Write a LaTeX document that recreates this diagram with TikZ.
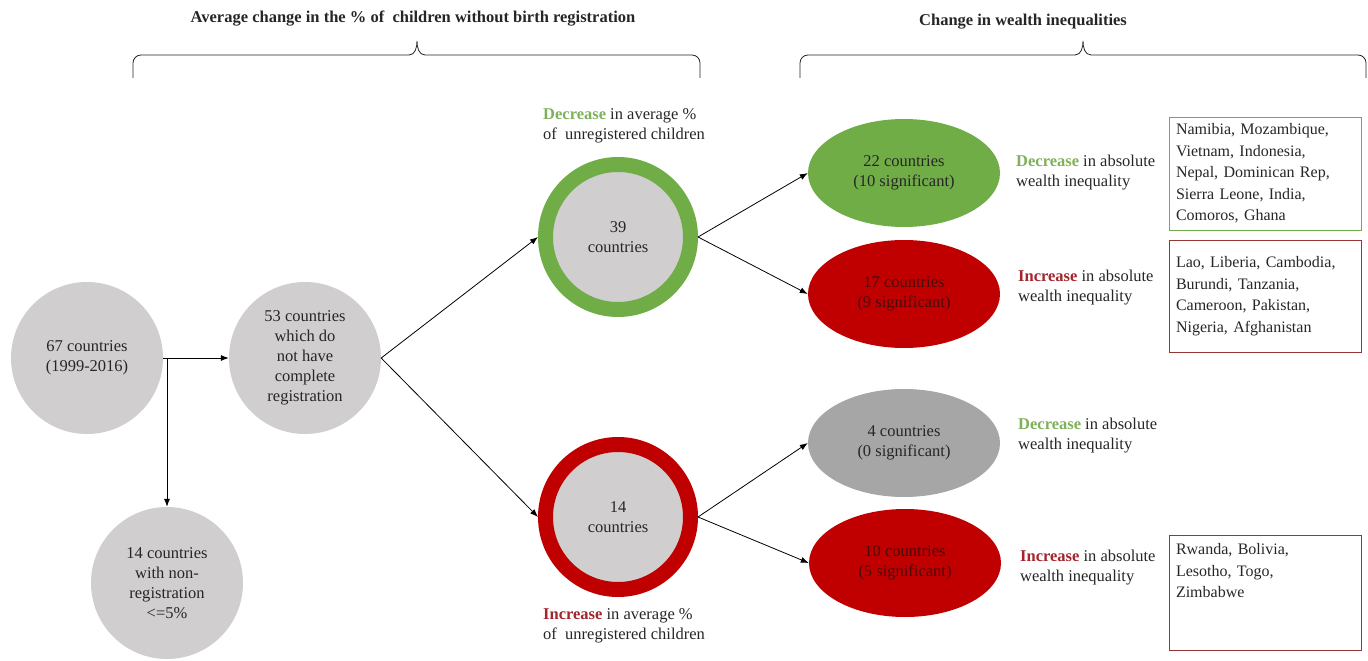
\documentclass[tikz,border=0pt]{standalone}
\usepackage{fontspec}
\setmainfont{Liberation Serif}
\usetikzlibrary{shapes.geometric,arrows.meta}
\definecolor{gfill}{HTML}{70AD47}
\definecolor{rfill}{HTML}{C00000}
\definecolor{lgray}{HTML}{D0CECE}
\definecolor{dgray}{HTML}{A6A6A6}
\definecolor{gtext}{HTML}{7FB05A}
\definecolor{rtext}{HTML}{A3262E}
\definecolor{rbox}{HTML}{953735}
\definecolor{ink}{HTML}{262626}
\definecolor{redink}{HTML}{4A0A0A}
\tikzset{
  txt/.style={font=\fontsize{16.5}{20}\selectfont, text=ink},
  hdr/.style={font=\bfseries\fontsize{16.5}{20}\selectfont, text=ink},
  gcirc/.style={circle, fill=lgray, minimum size=152pt, inner sep=0pt, align=center, txt},
  ring/.style={circle, fill=lgray, minimum size=145pt, line width=15pt, outer sep=7.5pt, inner sep=0pt, align=center, txt},
  ell/.style={ellipse, minimum width=192pt, minimum height=108pt, inner sep=0pt, align=center, txt},
  lbl/.style={anchor=west, align=left, inner sep=0pt, txt},
  box/.style={draw, line width=1pt, minimum width=192pt, text width=178pt, align=left, inner xsep=7pt, txt, font=\fontsize{16}{21.5}\selectfont},
  arr/.style={-{Latex[length=8pt,width=6pt]}, line width=0.8pt, draw=black},
  brace/.style={line width=0.8pt, draw=ink}
}
\begin{document}
\begin{tikzpicture}[x=1pt,y=-1pt]
\useasboundingbox (0,0) rectangle (1368,661);

% headers and braces
\node[hdr] (h1) at (413,19) {Average change in the \% of\ \ children without birth registration};
\node[hdr] (h2) at (1023,22) {Change in wealth inequalities};
\draw[brace] (133,78) -- (133,63) to[out=90,in=180] (141,55) -- (409,55) to[out=0,in=-90] (417,41) to[out=-90,in=180] (425,55) -- (692,55) to[out=0,in=90] (700,63) -- (700,78);
\draw[brace] (800,78) -- (800,63) to[out=90,in=180] (808,55) -- (1075,55) to[out=0,in=-90] (1083,41) to[out=-90,in=180] (1091,55) -- (1358,55) to[out=0,in=90] (1366,63) -- (1366,78);

% circles
\node[gcirc] (a) at (87,358) {67 countries\\(1999-2016)};
\node[gcirc] (b) at (305,358) {53 countries\\which do\\not have\\complete\\registration};
\node[gcirc] (c) at (167,583) {14 countries\\with non-\\registration\\<=5\%};
\node[ring, draw=gfill] (d) at (618,237) {39\\countries};
\node[ring, draw=rfill] (e) at (618,517) {14\\countries};

% ellipses
\node[ell, fill=gfill] (f) at (904,173) {22 countries\\(10 significant)};
\node[ell, fill=rfill, text=redink] (g) at (904,294) {17 countries\\(9 significant)};
\node[ell, fill=dgray] (h) at (904,443) {4 countries\\(0 significant)};
\node[ell, fill=rfill, text=redink] (i) at (905,563) {10 countries\\(5 significant)};

% labels
\node[lbl] (ld) at (543,126) {\textcolor{gtext}{\bfseries Decrease} in average \%\\of\ \ unregistered children};
\node[lbl] (li0) at (543,626) {\textcolor{rtext}{\bfseries Increase} in average \%\\of\ \ unregistered children};
\node[lbl] (lf) at (1016,173) {\textcolor{gtext}{\bfseries Decrease} in absolute\\wealth inequality};
\node[lbl] (lg) at (1018,288) {\textcolor{rtext}{\bfseries Increase} in absolute\\wealth inequality};
\node[lbl] (lh) at (1018,436) {\textcolor{gtext}{\bfseries Decrease} in absolute\\wealth inequality};
\node[lbl] (li) at (1020,568) {\textcolor{rtext}{\bfseries Increase} in absolute\\wealth inequality};

% boxes
\node[box, draw=gfill, minimum height=113pt] (bf) at (1265,173.5) {Namibia, Mozambique,\\Vietnam, Indonesia,\\Nepal, Dominican Rep,\\Sierra Leone, India,\\Comoros, Ghana};
\node[box, draw=rbox, minimum height=112pt] (bg) at (1265,296) {Lao, Liberia, Cambodia,\\Burundi, Tanzania,\\Cameroon, Pakistan,\\Nigeria, Afghanistan};
\node[box, draw=rbox, minimum height=115pt] (bi) at (1265,592.5) {Rwanda, Bolivia,\\Lesotho, Togo,\\Zimbabwe\\[22pt]\mbox{}};

% connectors
\draw[arr] (a.east) -- (b.west);
\draw[arr] (a.east -| c.north) -- (c.north);
\draw[arr] (b.east) -- (d.west);
\draw[arr] (b.east) -- (e.west);
\draw[arr] (d.east) -- (f.west);
\draw[arr] (d.east) -- (g.west);
\draw[arr] (e.east) -- (h.west);
\draw[arr] (e.east) -- (i.west);
\end{tikzpicture}
\end{document}
